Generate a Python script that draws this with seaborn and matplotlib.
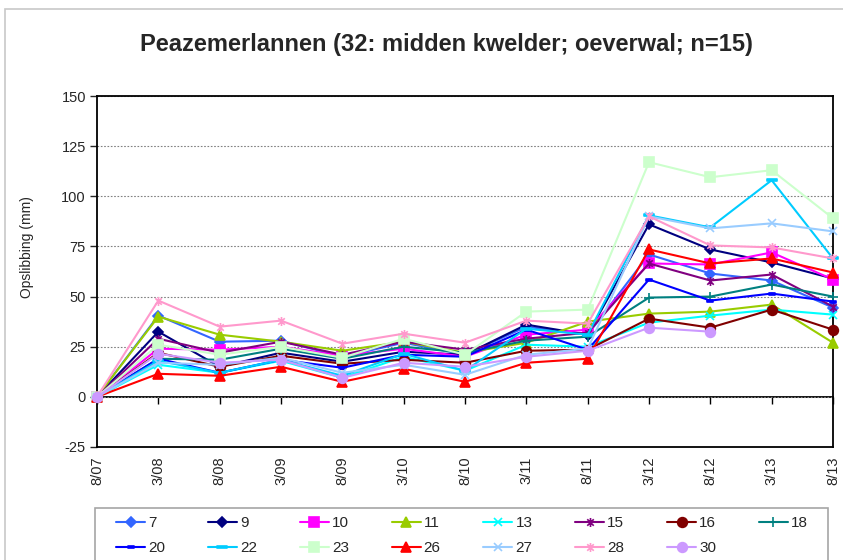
import numpy as np
import pandas as pd
import matplotlib
matplotlib.use("Agg")
import matplotlib.pyplot as plt
from matplotlib.path import Path
from matplotlib.patches import Rectangle
from matplotlib.lines import Line2D
import seaborn as sns

# Survey dates (month/year)
dates = ["8/07", "3/08", "8/08", "3/09", "8/09", "3/10", "8/10",
         "3/11", "8/11", "3/12", "8/12", "3/13", "8/13"]

# Accumulated sedimentation per plot (mm)
s7 = [0, 40.5, 27.5, 28, 20, 27, 21, 35, 31, 71, 61.5, 58, 44.5]
s9 = [0, 32.5, 15, 22, 17.5, 22.5, 21, 36, 31, 86, 73.5, 67, 59]
s10 = [0, 24, 23.5, 25, 20.5, 24, 20, 31, 33.5, 66.5, 66, 72, 58.5]
s11 = [0, 40, 31, 27.5, 23, 27.5, 22, 27, 37.5, 41.5, 42.5, 46, 27]
s13 = [0, 16, 12, 18, 9.5, 20, 13, 26, 25, 37, 40.5, 43.5, 41]
s15 = [0, 29, 22, 27.5, 21, 27.5, 23.5, 29, 32, 66.5, 58, 61, 45]
s16 = [0, 22, 15, 20.5, 16.5, 18.5, 17, 23, 23.5, 39, 34.5, 43.5, 33.5]
s18 = [0, 19, 18.5, 24, 19, 25, 22, 28, 30, 49.5, 50, 56, 50]
s20 = [0, 19, 12, 18.5, 14.5, 21, 20, 33.5, 23.5, 58.5, 48, 51.5, 47.5]
s22 = [0, 18, 12, 18.5, 10.5, 21.5, 13, 34, 31, 90.5, 84.5, 108, 69]
s23 = [0, 26, 21, 25, 19.5, 29, 21, 42.5, 43.5, 117, 109.5, 113, 89]
s26 = [0, 11.5, 10.5, 15, 7.5, 14, 7.5, 17, 19, 73.5, 66.5, 69, 62]
s27 = [0, 17, 16, 19.5, 12, 16, 11, 21, 24, 90, 84, 86.5, 82.5]
s28 = [0, 48, 35, 38, 26.5, 31.5, 27, 38, 36.5, 90, 75.5, 74.5, 69]
s30 = [0, 21.5, 17, 18.5, 9.5, 17, 15, 20, 23, 34.5, 32.5, np.nan, np.nan]

series = [("7", s7), ("9", s9), ("10", s10), ("11", s11), ("13", s13),
          ("15", s15), ("16", s16), ("18", s18), ("20", s20), ("22", s22),
          ("23", s23), ("26", s26), ("27", s27), ("28", s28), ("30", s30)]

sns.set_style("white")
plt.rcParams["font.family"] = ["Liberation Sans", "DejaVu Sans"]
plt.rcParams["axes.unicode_minus"] = False

# Custom marker shapes: asterisk (x plus vertical bar) and short dash
asterisk = Path([(0, -1), (0, 1), (-0.72, -0.72), (0.72, 0.72),
                 (-0.72, 0.72), (0.72, -0.72)],
                [Path.MOVETO, Path.LINETO] * 3)
dash = Path([(-1, -0.3), (1, -0.3), (1, 0.3), (-1, 0.3), (-1, -0.3)],
            [Path.MOVETO, Path.LINETO, Path.LINETO, Path.LINETO, Path.CLOSEPOLY])

style = {
    "7": ("#3366FF", "D", 5.0),
    "9": ("#000080", "D", 5.0),
    "10": ("#FF00FF", "s", 6.5),
    "11": ("#99CC00", "^", 7.0),
    "13": ("#00FFFF", "x", 6.0),
    "15": ("#800080", asterisk, 6.5),
    "16": ("#800000", "o", 7.0),
    "18": ("#008080", "+", 7.0),
    "20": ("#0000FF", dash, 5.0),
    "22": ("#00CCFF", dash, 7.0),
    "23": ("#CCFFCC", "s", 7.0),
    "26": ("#FF0000", "^", 7.0),
    "27": ("#99CCFF", "x", 6.0),
    "28": ("#FF99CC", asterisk, 6.5),
    "30": ("#CC99FF", "o", 7.0),
}

W, H = 843, 560
fig = plt.figure(figsize=(W / 100, H / 100), dpi=100)
ax = fig.add_axes([97 / W, 1 - 447 / H, (833 - 97) / W, (447 - 96) / H])

pos = np.arange(len(dates))
handles = {}
for name, vals in series:
    color, mk, ms = style[name]
    df = pd.DataFrame({"pos": pos, "val": vals}).dropna()
    sns.lineplot(data=df, x="pos", y="val", ax=ax, color=color, marker=mk,
                 markersize=ms, markeredgecolor=color, markerfacecolor=color,
                 markeredgewidth=1.2, linewidth=1.5, estimator=None,
                 legend=False, zorder=3)
    ax.lines[-1].set_clip_on(False)
    handles[name] = Line2D([], [], color=color, marker=mk, markersize=ms,
                           markeredgecolor=color, markerfacecolor=color,
                           markeredgewidth=1.2, linewidth=1.5)

ax.set_xlim(0, 12)
ax.set_ylim(-25, 150)
ax.set_yticks(np.arange(-25, 151, 25))
ax.set_xticks(pos)
ax.set_xticklabels(dates, rotation=90, fontsize=10.5)
ax.tick_params(axis="x", length=0, pad=7)
ax.tick_params(axis="y", direction="out", length=5, width=1, pad=3,
               labelsize=10.5, left=True)
ax.set_xlabel("")
ax.set_ylabel("")
ax.yaxis.grid(True, color="#808080", linewidth=0.8, linestyle=(0, (1.5, 1.5)))
ax.set_axisbelow(True)
for sp in ax.spines.values():
    sp.set_color("black")
    sp.set_linewidth(1.3)

# Category axis crossing at zero
zero = ax.secondary_xaxis(25 / 175)
zero.set_xticks(pos)
zero.set_xticklabels([])
zero.tick_params(axis="x", direction="out", length=5, width=1, color="black")
for sp in zero.spines.values():
    sp.set_linewidth(1.3)
    sp.set_color("black")

fig.text(446 / W, 1 - 45 / H,
         "Peazemerlannen (32: midden kwelder; oeverwal; n=15)",
         ha="center", va="center", fontsize=17, fontweight="bold")
fig.text(27 / W, 1 - 247 / H, "Opslibbing (mm)", rotation=90,
         ha="center", va="center", fontsize=10)

# Outer chart border and legend box
fig.patches.append(Rectangle((4.5 / W, -0.1), 1.2, 1.1 - 9 / H,
                             transform=fig.transFigure, fill=False,
                             edgecolor="#c8c8c8", linewidth=1.2))
fig.patches.append(Rectangle((95 / W, -15 / H), (828 - 95) / W, 67 / H,
                             transform=fig.transFigure, fill=False,
                             edgecolor="#a6a6a6", linewidth=1.2))

order = ["7", "20", "9", "22", "10", "23", "11", "26", "13", "27",
         "15", "28", "16", "30", "18"]
fig.legend([handles[k] for k in order], order, loc="upper left",
           bbox_to_anchor=(116 / W, 1 - 516 / H, (808 - 116) / W, 0),
           mode="expand", ncol=8, frameon=False, borderpad=0,
           borderaxespad=0, handlelength=1.9, handletextpad=0.2,
           labelspacing=0.75, fontsize=11)

fig.savefig("out.png", dpi=100)
